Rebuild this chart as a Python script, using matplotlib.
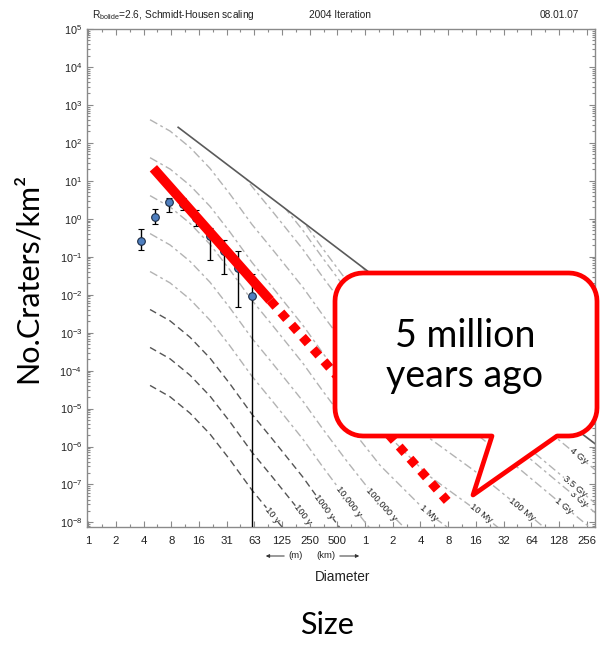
import numpy as np
import matplotlib
matplotlib.use("Agg")
import matplotlib.pyplot as plt
from matplotlib.patches import Polygon, PathPatch
from matplotlib.path import Path
from matplotlib.ticker import FixedLocator, NullFormatter, LogLocator

plt.rcParams['mathtext.fontset'] = 'custom'
plt.rcParams['mathtext.rm'] = 'Liberation Sans'
plt.rcParams['mathtext.it'] = 'Liberation Sans:italic'
plt.rcParams['mathtext.default'] = 'regular'

# isochron shape: log10 N (craters per km^2) after one year of exposure
iso_D_km = [0.0046, 0.0076, 0.0125, 0.0206, 0.034, 0.059, 0.098, 0.21,
            0.35, 0.64, 1.46, 4.8, 17.8, 51, 142, 358]
iso_logN_1yr = [-5.39, -5.69, -6.12, -6.67, -7.35, -8.15, -8.8, -9.8,
                -10.55, -11.4, -12.5, -13.75, -14.75, -15.65, -16.55, -17.35]

iso_labels = ['10 y', '100 y', '1000 y', '10,000 y', '100,000 y', '1 My',
              '10 My', '100 My', '1 Gy', '3 Gy', '3.5 Gy', '4 Gy']
iso_log_age = [1, 2, 3, 4, 5, 6, 7, 8, 9, 9.5, 9.75, 10.63]
iso_label_D = [0.098, 0.21, 0.36, 0.66, 1.5, 4.9, 18, 51, 145, 207, 191, 207]

# saturation equilibrium line
sat_D = [0.0093, 335]
sat_N = [257, 1.06e-6]

# counted craters (root-2 bins) with error bar limits
crater_D = [0.00368, 0.0052, 0.00736, 0.0104, 0.0147, 0.0208, 0.0294, 0.0416, 0.0589]
crater_N = [0.26, 1.1, 2.75, 2.5, 1.05, 0.35, 0.14, 0.05, 0.0095]
crater_lo = [0.148, 0.72, 1.51, 1.74, 0.63, 0.080, 0.035, 0.0047, 1e-10]
crater_hi = [0.53, 1.78, 3.63, 3.55, 1.75, 0.56, 0.28, 0.138, 0.035]

# hand-drawn fit line (solid part, then dotted extension)
red_solid_D = [0.0050, 0.093]
red_solid_N = [21.4, 0.0071]
red_dot_D = [0.093, 7.8]
red_dot_N = [0.0071, 3.7e-8]

x_ticks = [2.0 ** k for k in range(-10, 9)]
x_ticklabels = ['1', '2', '4', '8', '16', '31', '63', '125', '250', '500',
                '1', '2', '4', '8', '16', '32', '64', '128', '256']
y_ticks = [10.0 ** k for k in range(-8, 6)]

W, H = 602, 649
fig = plt.figure(figsize=(W / 100, H / 100), dpi=100)
ax = fig.add_axes([87 / W, 1 - 527 / H, 508 / W, 498 / H])
ax.set_xscale('log')
ax.set_yscale('log')
ax.set_xlim(2 ** -10.04, 2 ** 8.30)
ax.set_ylim(10 ** -8.12, 1e5)

# area below the saturation line, used to cut the isochrons
slope = np.log10(sat_N[1] / sat_N[0]) / np.log10(sat_D[1] / sat_D[0])
far = np.array([1e-6, 1e5])
far_N = sat_N[0] * (far / sat_D[0]) ** slope
clip = Polygon([(far[0], far_N[0]), (far[1], far_N[1]), (far[1], 1e-20), (far[0], 1e-20)],
               closed=True, transform=ax.transData, facecolor='none', edgecolor='none')

iso_D = np.array(iso_D_km)
iso_f = np.array(iso_logN_1yr)
for i, (lab, la) in enumerate(zip(iso_labels, iso_log_age)):
    dark = i < 3
    ln, = ax.plot(iso_D, 10 ** (iso_f + la),
                  color='#555555' if dark else '#b3b3b3', lw=1.0,
                  dashes=(5, 3) if dark else (6, 2.5, 2, 2.5), zorder=2)
    ln.set_clip_path(clip)

    d0 = iso_label_D[i]
    n_at = lambda d: 10 ** (np.interp(np.log10(d), np.log10(iso_D), iso_f) + la)
    p1 = ax.transData.transform((d0 / 1.15, n_at(d0 / 1.15)))
    p2 = ax.transData.transform((d0 * 1.15, n_at(d0 * 1.15)))
    ang = np.degrees(np.arctan2(p2[1] - p1[1], p2[0] - p1[0]))
    ax.text(d0, n_at(d0), lab, rotation=ang, rotation_mode='anchor',
            ha='center', va='center', fontsize=6.8, color='#222222',
            family='Liberation Sans', zorder=3,
            bbox=dict(facecolor='white', edgecolor='none', pad=0.2))

ax.plot(sat_D, sat_N, color='#5a5a5a', lw=1.2, zorder=2)

crater_N_arr = np.array(crater_N)
yerr = [crater_N_arr - np.array(crater_lo), np.array(crater_hi) - crater_N_arr]
ax.errorbar(crater_D, crater_N, yerr=yerr, fmt='o', color='black', ecolor='black',
            elinewidth=1.0, capsize=2.5, capthick=1.0, markersize=5.5,
            markerfacecolor='#4f7fbf', markeredgecolor='#1b2b44', markeredgewidth=0.8,
            zorder=4)

ax.plot(red_solid_D, red_solid_N, color='#ff0000', lw=7, solid_capstyle='butt', zorder=5)
ax.plot(red_dot_D, red_dot_N, color='#ff0000', lw=6.5, dashes=(0.95, 0.85),
        dash_capstyle='butt', zorder=5)

# axes styling
ax.xaxis.set_major_locator(FixedLocator(x_ticks))
ax.xaxis.set_minor_locator(FixedLocator([t * 2 ** 0.5 for t in x_ticks]))
ax.set_xticklabels(x_ticklabels)
ax.xaxis.set_minor_formatter(NullFormatter())
ax.yaxis.set_major_locator(FixedLocator(y_ticks))
ax.yaxis.set_minor_locator(LogLocator(base=10, subs=np.arange(2, 10), numticks=40))
ax.set_yticklabels(['$10^{%d}$' % k for k in range(-8, 6)])
ax.yaxis.set_minor_formatter(NullFormatter())
for t in ax.get_xticklabels() + ax.get_yticklabels():
    t.set_family('Liberation Sans')
ax.tick_params(which='both', direction='in', top=True, right=True,
               color='#8a8a8a', width=0.8, labelcolor='#222222')
ax.tick_params(which='major', length=4)
ax.tick_params(which='minor', length=2)
ax.tick_params(axis='x', labelsize=8.2, pad=6.5)
ax.tick_params(axis='y', labelsize=7.8, pad=3.5)
for s in ax.spines.values():
    s.set_color('#8a8a8a')
    s.set_linewidth(1.0)

# header line
fig.text(92 / W, 1 - 15 / H, r'R$_{\rm bolide}$=2.6, Schmidt-Housen scaling',
         fontsize=7.3, family='Liberation Sans', ha='left', va='center', color='#222222')
fig.text(340 / W, 1 - 15 / H, '2004 Iteration', fontsize=7.3,
         family='Liberation Sans', ha='center', va='center', color='#222222')
fig.text(579 / W, 1 - 15 / H, '08.01.07', fontsize=7.3,
         family='Liberation Sans', ha='right', va='center', color='#222222')

# unit hints under the axis
fig.text(296 / W, 1 - 556 / H, '(m)', fontsize=6.8, family='Liberation Sans',
         ha='center', va='center', color='#222222')
fig.text(326 / W, 1 - 556 / H, '(km)', fontsize=6.8, family='Liberation Sans',
         ha='center', va='center', color='#222222')
fig.add_artist(matplotlib.patches.FancyArrowPatch(
    (287 / W, 1 - 556 / H), (263 / W, 1 - 556 / H), transform=fig.transFigure,
    arrowstyle='-|>', mutation_scale=5, lw=0.7, color='#333333'))
fig.add_artist(matplotlib.patches.FancyArrowPatch(
    (337 / W, 1 - 556 / H), (362 / W, 1 - 556 / H), transform=fig.transFigure,
    arrowstyle='-|>', mutation_scale=5, lw=0.7, color='#333333'))
fig.text(343 / W, 1 - 577 / H, 'Diameter', fontsize=9.8, family='Liberation Sans',
         ha='center', va='center', color='#222222')

fig.text(28 / W, 1 - 278 / H, 'No.Craters/km²', rotation=90, fontsize=22,
         family='Lato', ha='center', va='center', color='black')
fig.text(327 / W, 1 - 625 / H, 'Size', fontsize=22, family='Lato',
         ha='center', va='center', color='black')


# speech-bubble callout (pixel geometry, top-left origin)
def bubble(L, R, T, B, r, x1, x2, tip):
    pts = []
    def arc(cx, cy, a0, a1):
        for a in np.linspace(a0, a1, 12):
            pts.append((cx + r * np.cos(a), cy + r * np.sin(a)))
    arc(R - r, T + r, -np.pi / 2, 0)
    arc(R - r, B - r, 0, np.pi / 2)
    pts += [(x2, B), tip, (x1, B)]
    arc(L + r, B - r, np.pi / 2, np.pi)
    arc(L + r, T + r, np.pi, 1.5 * np.pi)
    pts.append(pts[0])
    return [(x / W, 1 - y / H) for x, y in pts]

verts = bubble(335, 597, 273, 436, 28, 492, 557, (473, 495))
codes = [Path.MOVETO] + [Path.LINETO] * (len(verts) - 2) + [Path.CLOSEPOLY]
fig.add_artist(PathPatch(Path(verts, codes), transform=fig.transFigure,
                         facecolor='white', edgecolor='#ff0000', lw=3.4,
                         joinstyle='round', zorder=10))
fig.text(465 / W, 1 - 356 / H, '5 million\nyears ago', fontsize=27, family='Lato',
         ha='center', va='center', linespacing=1.15, color='black', zorder=11)

fig.savefig('out.png', dpi=100, facecolor='white')
